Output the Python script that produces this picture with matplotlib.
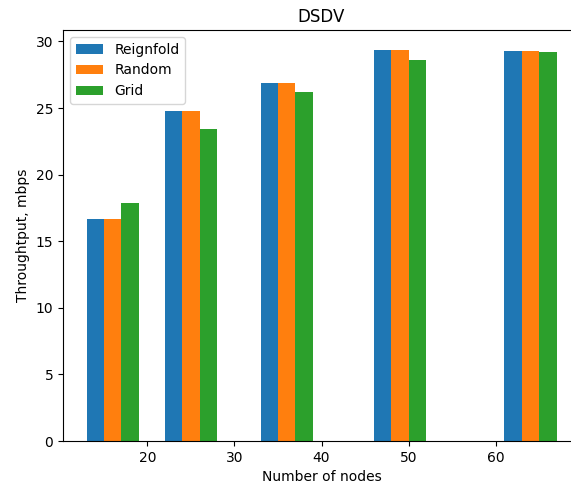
import numpy as np
import matplotlib
matplotlib.use("Agg")
import matplotlib.pyplot as plt

# number of nodes (grid sizes)
nodes = [16, 25, 36, 49, 64]
reignfold = [16.68, 24.80, 26.87, 29.39, 29.32]
random_ = [16.68, 24.80, 26.87, 29.39, 29.32]
grid = [17.90, 23.45, 26.20, 28.64, 29.24]

w = 2
x = np.array(nodes)

fig = plt.figure(figsize=(5.71, 4.86), dpi=100)
ax = fig.add_axes([63 / 571, 45 / 486, 517 / 571, 411 / 486])

ax.bar(x - w, reignfold, width=w, label="Reignfold")
ax.bar(x, random_, width=w, label="Random")
ax.bar(x + w, grid, width=w, label="Grid")

ax.set_title("DSDV")
ax.set_xlabel("Number of nodes")
ax.set_ylabel("Throughtput, mbps")
ax.legend(loc="upper left")

fig.savefig("out.png", dpi=100)
